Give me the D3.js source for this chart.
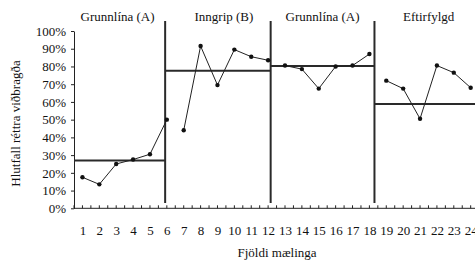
<!DOCTYPE html>
<html>
<head>
<meta charset="utf-8">
<script src="https://cdn.jsdelivr.net/npm/d3@7"></script>
<style>
  body { margin: 0; background: #fff; }
  svg text { font-family: "Liberation Serif", "DejaVu Serif", "Times New Roman", serif; }
</style>
</head>
<body>
<div id="chart"></div>
<script>
// Data
const sessions = d3.range(1, 25);
const values = [17.5, 13.5, 25, 27.5, 30.5, 50,
  44, 91.5, 69.5, 89.5, 85.5, 83.5,
  80.5, 78.5, 67.5, 80, 80.5, 87,
  72, 67.5, 50.5, 80.5, 76.5, 68];
const phaseNames = ["Grunnlína (A)", "Inngrip (B)", "Grunnlína (A)", "Eftirfylgd"];
const phaseStart = [1, 7, 13, 19];
const phaseEnd = [6, 12, 18, 24];
const phaseLevels = [27, 77.6, 80.3, 58.8];
const phaseBreaks = [5.9, 12.15, 18.3];
const yTicks = [0, 10, 20, 30, 40, 50, 60, 70, 80, 90, 100];

const W = 475, H = 261;
const plotLeft = 74, plotTop = 31, plotBottom = 208.3;
const step = 16.88;
const serif = "Liberation Serif, DejaVu Serif, serif";

const svg = d3.select("#chart").append("svg")
  .attr("width", W).attr("height", H)
  .style("display", "block");

const x = d3.scaleLinear().domain([0.5, 24.5]).range([plotLeft, plotLeft + 24 * step]);
const y = d3.scaleLinear().domain([0, 100]).range([plotBottom, plotTop]);
const xEnd = W;

// Y axis
const yAxis = svg.append("g")
  .attr("transform", `translate(${plotLeft},0)`)
  .call(d3.axisLeft(y).tickValues(yTicks).tickSize(3).tickSizeOuter(0)
    .tickFormat(d => d + "%"));
yAxis.attr("font-family", serif);
yAxis.select(".domain").attr("stroke", "#222");
yAxis.selectAll(".tick line").attr("stroke", "#222");
yAxis.selectAll("text").attr("font-size", 13).attr("fill", "#111").attr("x", -8);

// X axis line and tick marks (inside, every half session)
svg.append("line")
  .attr("x1", plotLeft).attr("x2", xEnd)
  .attr("y1", plotBottom).attr("y2", plotBottom)
  .attr("stroke", "#222");
const halfTicks = d3.range(0.5, 24.6, 0.5);
svg.append("g").selectAll("line").data(halfTicks).join("line")
  .attr("x1", d => x(d)).attr("x2", d => x(d))
  .attr("y1", plotBottom).attr("y2", plotBottom - 3)
  .attr("stroke", "#222");

// X tick labels
svg.append("g").selectAll("text").data(sessions).join("text")
  .attr("x", d => x(d) + 0.5).attr("y", 235)
  .attr("text-anchor", "middle")
  .attr("font-size", 13).attr("fill", "#111")
  .text(d => d);

// Phase break lines
svg.append("g").selectAll("line").data(phaseBreaks).join("line")
  .attr("x1", d => x(d)).attr("x2", d => x(d))
  .attr("y1", 21).attr("y2", 203)
  .attr("stroke", "#2a2a2a").attr("stroke-width", 2);

// Phase level lines
const bounds = [x(0.5), ...phaseBreaks.map(x), xEnd];
svg.append("g").selectAll("line").data(phaseLevels).join("line")
  .attr("x1", (d, i) => bounds[i]).attr("x2", (d, i) => bounds[i + 1])
  .attr("y1", d => y(d)).attr("y2", d => y(d))
  .attr("stroke", "#2a2a2a").attr("stroke-width", 2);

// Phase headers
svg.append("g").selectAll("text").data(phaseNames).join("text")
  .attr("x", (d, i) => (bounds[i] + bounds[i + 1]) / 2 + (i === 0 ? -2 : i === 1 ? 6 : i === 3 ? 4 : 0))
  .attr("y", 21)
  .attr("text-anchor", "middle")
  .attr("font-size", 13).attr("fill", "#111")
  .text(d => d);

// Series lines, broken between phases
const line = d3.line().x(d => x(d.s)).y(d => y(d.v));
phaseStart.forEach((s, i) => {
  const seg = sessions.filter(d => d >= s && d <= phaseEnd[i])
    .map(d => ({ s: d, v: values[d - 1] }));
  svg.append("path").datum(seg)
    .attr("d", line)
    .attr("fill", "none").attr("stroke", "#222").attr("stroke-width", 1);
});

// Dots
svg.append("g").selectAll("circle").data(sessions).join("circle")
  .attr("cx", d => x(d)).attr("cy", d => y(values[d - 1]))
  .attr("r", 2.2).attr("fill", "#111");

// Axis titles
svg.append("text")
  .attr("transform", `translate(20,${123.5}) rotate(-90)`)
  .attr("text-anchor", "middle")
  .attr("font-size", 13).attr("fill", "#111")
  .text("Hlutfall réttra viðbragða");
svg.append("text")
  .attr("x", 277).attr("y", 257)
  .attr("text-anchor", "middle")
  .attr("font-size", 13).attr("fill", "#111")
  .text("Fjöldi mælinga");
</script>
</body>
</html>
